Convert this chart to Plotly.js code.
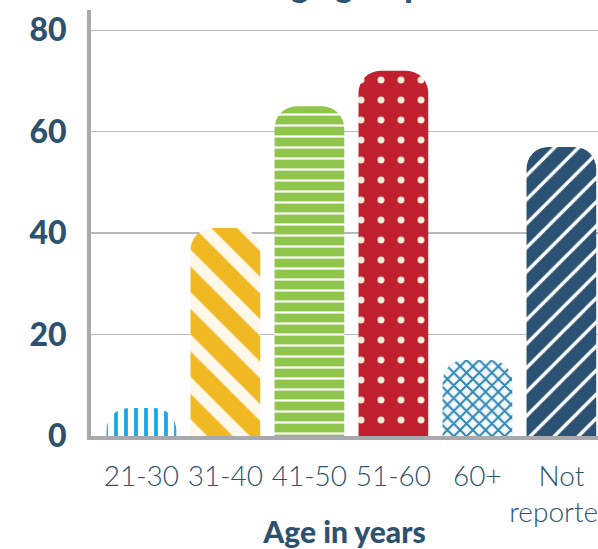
<!DOCTYPE html>
<html>
<head>
<meta charset="utf-8">
<script src="https://cdn.plot.ly/plotly-3.0.1.min.js"></script>
<style>
html,body{margin:0;padding:0;background:#fff;overflow:hidden;}
#chart{width:598px;height:549px;}
</style>
</head>
<body>
<div id="chart"></div>
<script>
// Data
const categories = ["21-30", "31-40", "41-50", "51-60", "60+", "Not<br>reported"];
const counts = [5.5, 41, 65, 72, 15, 57];
const yTicks = [0, 20, 40, 60, 80];
const chartTitle = "Age group";
const xTitle = "Age in years";

// Styles (per bar)
const patShapes = ["|", "\\", "-", ".", "x", "/"];
const patFg = ["#17a8ea", "#f0b823", "#ffffff", "#f6ecd9", "#2f86b3", "#ffffff"];
const patBg = ["#ffffff", "#fdf8ea", "#8fc54a", "#c1202f", "#f2f8fb", "#2b5272"];
const patSize = [10, 30, 11, 20, 9, 17];
const patSolidity = [0.38, 0.6, 0.2, 0.096, 0.4, 0.2];

const textColor = "#2c5270";

const traces = categories.map((cat, i) => ({
  type: "bar",
  name: cat,
  x: [cat],
  y: [counts[i]],
  width: 0.83,
  marker: {
    cornerradius: 22,
    color: patBg[i],
    line: {width: 0},
    pattern: {
      shape: patShapes[i],
      fgcolor: patFg[i],
      bgcolor: patBg[i],
      fgopacity: 1,
      size: patSize[i],
      solidity: patSolidity[i],
      fillmode: "replace"
    }
  },
  hoverinfo: "x+y"
}));

const layout = {
  width: 598,
  height: 549,
  margin: {l: 91, r: 0, t: 10, b: 113, pad: 0},
  paper_bgcolor: "#ffffff",
  plot_bgcolor: "#ffffff",
  showlegend: false,
  barmode: "overlay",
  xaxis: {
    type: "category",
    categoryorder: "array",
    categoryarray: categories,
    range: [-0.6, 5.436],
    showgrid: false,
    zeroline: false,
    showline: true,
    linecolor: "#a7a9ac",
    linewidth: 4,
    ticks: "",
    tickangle: 0,
    ticklabelstandoff: 12,
    tickfont: {family: "Lato, sans-serif", size: 28, color: textColor, weight: 300},
    automargin: false,
    title: {
      text: xTitle,
      font: {family: "Lato, sans-serif", size: 30, color: textColor, weight: 900},
      standoff: 0
    }
  },
  yaxis: {
    range: [0, 84],
    tickvals: yTicks,
    ticktext: yTicks.map(String),
    showgrid: true,
    gridcolor: "#b9b9b9",
    gridwidth: 1.5,
    zeroline: false,
    showline: true,
    linecolor: "#a7a9ac",
    linewidth: 4,
    ticks: "",
    ticklabelstandoff: 14,
    tickfont: {family: "Lato, sans-serif", size: 32, color: textColor, weight: 900},
    automargin: false
  },
  annotations: [{
    text: chartTitle,
    xref: "paper", yref: "paper",
    x: 0.5, y: 1.0094,
    xanchor: "center", yanchor: "bottom",
    showarrow: false,
    font: {family: "Lato, sans-serif", size: 34, color: textColor, weight: 900}
  }]
};

Plotly.newPlot("chart", traces, layout, {displayModeBar: false, staticPlot: true});
</script>
</body>
</html>
